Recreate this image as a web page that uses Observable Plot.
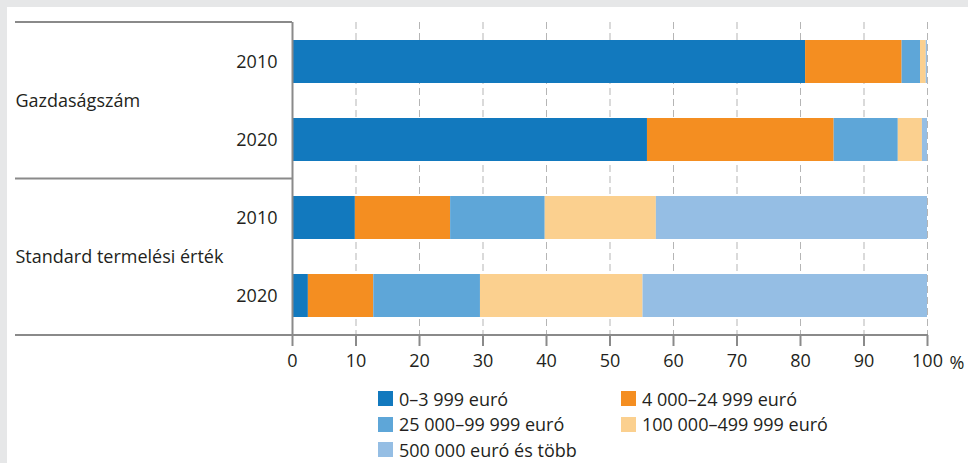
<!DOCTYPE html>
<html><head><meta charset="utf-8">
<script src="https://cdn.jsdelivr.net/npm/d3@7"></script>
<script src="https://cdn.jsdelivr.net/npm/@observablehq/plot@0.6"></script>
<style>
body{margin:0;background:#e6e7e8;font-family:"Open Sans",sans-serif;}
#panel{position:absolute;left:7px;top:7px;width:961px;height:456px;background:#fff;overflow:hidden;}
#legend{position:relative;margin-top:8px;height:80px;}
.li{position:absolute;display:flex;align-items:center;height:25.5px;font-size:18px;color:#231f20;white-space:nowrap;}
.sw{width:15px;height:15px;margin-right:6px;flex:none;}
</style></head><body><div id="panel"></div>
<script>
const groups = ["Gazdaságszám","Gazdaságszám","Standard termelési érték","Standard termelési érték"];
const years = ["2010","2020","2010","2020"];
const classes = ["0–3 999 euró","4 000–24 999 euró","25 000–99 999 euró","100 000–499 999 euró","500 000 euró és több"];
const colors = ["#1279be","#f48e21","#5ea6d8","#fbd08f","#95bee4"];
const s1 = [80.8, 55.9, 9.9, 2.5];
const s2 = [15.2, 29.4, 15.0, 10.3];
const s3 = [2.9, 10.1, 14.9, 16.8];
const s4 = [0.9, 3.8, 17.5, 25.6];
const s5 = [0.2, 0.8, 42.7, 44.8];
const xTicks = [0,10,20,30,40,50,60,70,80,90,100];

const series = [s1,s2,s3,s4,s5];
const rows = groups.map((g,i)=>g+"|"+years[i]);
const data = [];
series.forEach((s,ci)=>s.forEach((v,ri)=>data.push({row:rows[ri], cls:classes[ci], value:v})));
const groupLabels = [...new Set(groups)].map(g=>({g, row: rows[groups.indexOf(g)]}));

const grey = "#8a8a8a";
const ink = "#231f20";
const chart = Plot.plot({
  width:961, height:371, marginLeft:285, marginRight:41, marginTop:15, marginBottom:43,
  style:{fontFamily:"'Open Sans', sans-serif", fontSize:"18px", color:ink, background:"transparent", overflow:"visible"},
  x:{domain:[0,100], label:null},
  y:{domain:rows, paddingInner:0.45, paddingOuter:0.225, axis:null, label:null},
  color:{domain:classes, range:colors},
  marks:[
    Plot.gridX(xTicks.slice(1), {stroke:"#b5b5b5", strokeOpacity:1, strokeDasharray:"7,4"}),
    Plot.barX(data, {x:"value", y:"row", fill:"cls", order:classes}),
    Plot.ruleX([0], {stroke:grey, strokeWidth:2}),
    Plot.axisX(xTicks, {tickSize:11, tickPadding:8, stroke:grey, strokeWidth:2, fill:ink, label:null, tickFormat:d=>String(d)}),
    Plot.text([100], {x:d=>d, frameAnchor:"bottom", text:()=>"%", dx:22, dy:28, textAnchor:"start", lineAnchor:"middle", fill:ink}),
    Plot.axisY({tickSize:0, tickPadding:15, fill:ink, label:null, tickFormat:d=>d.split("|")[1]}),
    Plot.text(groupLabels, {x:()=>0, y:"row", text:"g", dx:-277, dy:39, textAnchor:"start", lineAnchor:"middle", fill:ink})
  ]
});
document.getElementById("panel").appendChild(chart);

// frame lines
const xs = chart.scale("x"), ys = chart.scale("y");
const bw = ys.bandwidth;
const yTop = ys.range[0], yBot = ys.range[1];
const ySep = (ys.apply(rows[1]) + ys.apply(rows[2]) + bw) / 2;
const x0 = xs.apply(0), x100 = xs.apply(100);
const svg = d3.select(chart);
const lines = [[8, x0, yTop],[8, x0, ySep],[8, x100 + 1, yBot]];
svg.append("g").selectAll("line").data(lines).join("line")
  .attr("x1", d=>d[0]).attr("x2", d=>d[1]).attr("y1", d=>d[2]).attr("y2", d=>d[2])
  .attr("stroke", grey).attr("stroke-width", 2);

// legend
const legend = d3.select("#panel").append("div").attr("id","legend");
const pos = [[371,0],[614,0],[371,25.5],[614,25.5],[371,51]];
classes.forEach((c,i)=>{
  const it = legend.append("div").attr("class","li").style("left",pos[i][0]+"px").style("top",pos[i][1]+"px");
  it.append("div").attr("class","sw").style("background",colors[i]);
  it.append("span").text(c);
});
</script></body></html>
